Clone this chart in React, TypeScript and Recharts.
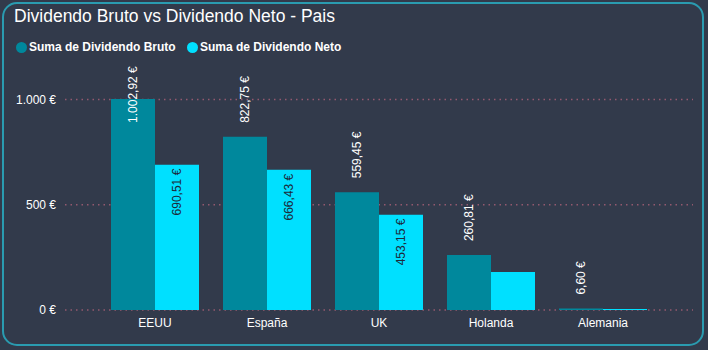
import * as React from 'react'
import { BarChart, Bar, XAxis, YAxis, CartesianGrid, LabelList } from 'recharts'

const categories = ['EEUU', 'España', 'UK', 'Holanda', 'Alemania']
const bruto = [1002.92, 822.75, 559.45, 260.81, 6.6]
const neto = [690.51, 666.43, 453.15, 181, 5]
const yTicks = [0, 500, 1000]

const BRUTO_COLOR = '#00889c'
const NETO_COLOR = '#00e0ff'
const BG = '#323a4b'
const FONT = '"Liberation Sans", Arial, sans-serif'

const Y_MAX = 1150
const PLOT_TOP = 68
const PLOT_BOTTOM = 310

const data = categories.map((c, i) => ({ pais: c, bruto: bruto[i], neto: neto[i] }))

function thousands(s: string) {
  return s.replace(/\B(?=(\d{3})+(?!\d))/g, '.')
}

function fmtEuro(v: number) {
  const [i, d] = v.toFixed(2).split('.')
  return `${thousands(i)},${d} €`
}

function fmtTick(v: number) {
  return `${thousands(String(v))} €`
}

// grid only at the labelled ticks
const gridYs = () =>
  yTicks.map((t) => PLOT_BOTTOM - (t / Y_MAX) * (PLOT_BOTTOM - PLOT_TOP))

function BrutoLabel(props: any) {
  const { x, y, width, value } = props
  const cx = x + width / 2
  // no room above the tallest bar, so it goes inside
  const inside = y < 110
  const ty = inside ? y + 24 : y - 14
  return (
    <text
      x={cx}
      y={ty}
      transform={`rotate(-90 ${cx} ${ty})`}
      textAnchor="start"
      dominantBaseline="central"
      fill="#ffffff"
      fontSize={12}
    >
      {fmtEuro(value)}
    </text>
  )
}

function NetoLabel(props: any) {
  const { x, y, width, height, value } = props
  if (height < 55) return null
  const cx = x + width / 2
  const ty = y + 4
  return (
    <text
      x={cx}
      y={ty}
      transform={`rotate(-90 ${cx} ${ty})`}
      textAnchor="end"
      dominantBaseline="central"
      fill="#1d2a3a"
      fontSize={12}
    >
      {fmtEuro(value)}
    </text>
  )
}

function LegendItem({ color, label, left }: { color: string; label: string; left: number }) {
  return (
    <div style={{ position: 'absolute', left, top: 40, display: 'flex', alignItems: 'center', whiteSpace: 'nowrap' }}>
      <span style={{ width: 11, height: 11, borderRadius: '50%', background: color, marginRight: 2 }} />
      <span style={{ color: '#ffffff', fontSize: 12, fontWeight: 700 }}>{label}</span>
    </div>
  )
}

export default function App() {
  return (
    <div
      style={{
        position: 'absolute',
        left: 0,
        top: 0,
        width: 708,
        height: 350,
        background: BG,
        fontFamily: FONT,
        overflow: 'hidden',
      }}
    >
      <div
        style={{
          position: 'absolute',
          left: 2,
          top: 2,
          right: 4,
          bottom: 4,
          border: '2px solid #2a9bb0',
          borderRadius: 15,
        }}
      />
      <BarChart
        width={708}
        height={350}
        data={data}
        margin={{ top: PLOT_TOP, right: 15, bottom: 0, left: 0 }}
        barCategoryGap={12}
        barGap={0}
      >
        <CartesianGrid
          vertical={false}
          stroke="#94596f"
          strokeWidth={1.5}
          strokeDasharray="1.5 4"
          horizontalCoordinatesGenerator={gridYs}
        />
        <XAxis
          dataKey="pais"
          height={40}
          tickLine={false}
          axisLine={false}
          tickSize={0}
          tickMargin={8}
          padding={{ left: 34, right: 34 }}
          tick={{ fill: '#ffffff', fontSize: 12 }}
          interval={0}
        />
        <YAxis
          width={65}
          domain={[0, Y_MAX]}
          ticks={yTicks}
          tickFormatter={fmtTick}
          tickLine={false}
          axisLine={false}
          tickSize={0}
          tickMargin={9}
          tick={{ fill: '#ffffff', fontSize: 12 }}
          interval={0}
        />
        <Bar dataKey="bruto" fill={BRUTO_COLOR} isAnimationActive={false}>
          <LabelList dataKey="bruto" content={BrutoLabel} />
        </Bar>
        <Bar dataKey="neto" fill={NETO_COLOR} isAnimationActive={false}>
          <LabelList dataKey="neto" content={NetoLabel} />
        </Bar>
      </BarChart>
      <div style={{ position: 'absolute', left: 14, top: 6, color: '#ffffff', fontSize: 17.5, whiteSpace: 'nowrap' }}>
        Dividendo Bruto vs Dividendo Neto - Pais
      </div>
      <LegendItem color={BRUTO_COLOR} label="Suma de Dividendo Bruto" left={16} />
      <LegendItem color={NETO_COLOR} label="Suma de Dividendo Neto" left={187} />
    </div>
  )
}
